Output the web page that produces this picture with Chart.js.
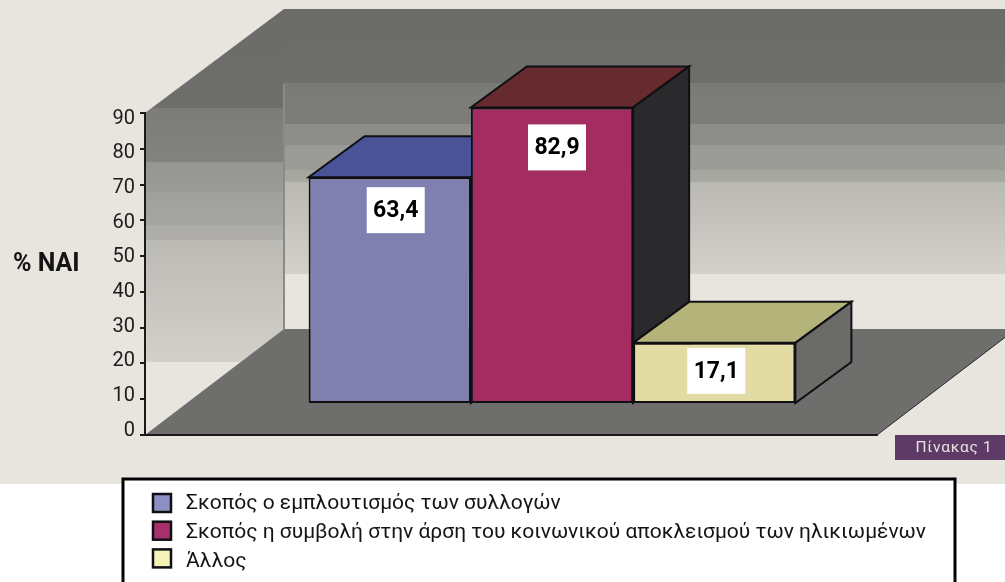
<!DOCTYPE html>
<html>
<head>
<meta charset="utf-8">
<title>Πίνακας 1</title>
<script src="https://cdn.jsdelivr.net/npm/chart.js@4"></script>
<style>
    html, body { margin: 0; padding: 0; background: #ffffff; }
    canvas { display: block; }
</style>
</head>
<body>
<canvas id="chart" width="1005" height="582"></canvas>
<script>
// data
const categories = ["% ΝΑΙ"];
const seriesNames = [
    "Σκοπός ο εμπλουτισμός των συλλογών",
    "Σκοπός η συμβολή στην άρση του κοινωνικού αποκλεισμού των ηλικιωμένων",
    "Άλλος"
];
const seriesValues = [63.4, 82.9, 17.1];
const tickValues = [0, 10, 20, 30, 40, 50, 60, 70, 80, 90];

// colours of each bar
const frontColors = ["#7f7fb0", "#a32c60", "#e2dca4"];
const topColors = ["#4b5398", "#672a2e", "#b3b37a"];
const sideColors = ["#3a3f70", "#2a2a2c", "#6b6b68"];
const swatchColors = ["#8a8fc4", "#a8306a", "#f5f2b8"];
const labelNudgeX = [6, 5, 2];
const labelNudgeY = [10, 17, 5];

// room: back wall offset from front plane, and where the bars stand in it
const roomX = 139, roomY = 106;
const barDepthX = 56, barDepthY = 41;
const barShiftX = 41, barShiftY = 31;

const paper = "#e8e4de";
const black = "#101014";
const uiFont = "Roboto, 'Open Sans', sans-serif";

// stripes of the walls, [top, bottom, colour at top, colour at bottom]
const backBands = [
    [9, 83, "#6b6c6a", "#6e6e6b"],
    [83, 124, "#7b7b76", "#7c7c7a"],
    [124, 145, "#8c8d88", "#8d8e89"],
    [145, 170, "#9a9a96", "#9c9c97"],
    [170, 182, "#a6a6a0", "#a8a8a2"],
    [182, 274, "#bab8b2", "#d4d1cb"]
];
const sideBands = [
    [9, 108, "#6b6b69", "#6e6e6c"],
    [108, 162, "#7c7c78", "#82827f"],
    [162, 192, "#969692", "#9a9a96"],
    [192, 225, "#a0a09c", "#a6a6a1"],
    [225, 240, "#aeaca8", "#b0aeaa"],
    [240, 362, "#bcbab4", "#d3d0ca"]
];

function poly(ctx, points, fill, stroke) {
    ctx.beginPath();
    points.forEach((p, i) => i ? ctx.lineTo(p[0], p[1]) : ctx.moveTo(p[0], p[1]));
    ctx.closePath();
    if (fill) { ctx.fillStyle = fill; ctx.fill(); }
    if (stroke) { ctx.strokeStyle = stroke; ctx.lineWidth = 2; ctx.stroke(); }
}

function paintBands(ctx, bands, x, w) {
    bands.forEach(b => {
        const g = ctx.createLinearGradient(0, b[0], 0, b[1]);
        g.addColorStop(0, b[2]);
        g.addColorStop(1, b[3]);
        ctx.fillStyle = g;
        ctx.fillRect(x, b[0], w, b[1] - b[0]);
    });
}

const roomPlugin = {
    id: "room",
    beforeDraw(chart) {
        const ctx = chart.ctx;
        const a = chart.chartArea;
        ctx.save();
        ctx.fillStyle = paper;
        ctx.fillRect(0, 0, chart.width, 484);

        const wallX = a.left + roomX;
        const floorBack = a.bottom - roomY;

        // back wall
        paintBands(ctx, backBands, wallX, chart.width - wallX);

        // left wall, clipped to its slanted outline
        ctx.save();
        ctx.beginPath();
        ctx.moveTo(a.left, a.top);
        ctx.lineTo(wallX, a.top - roomY + 2);
        ctx.lineTo(wallX, floorBack);
        ctx.lineTo(a.left, a.bottom);
        ctx.closePath();
        ctx.clip();
        paintBands(ctx, sideBands, a.left, roomX);
        ctx.restore();

        // thin line in the corner of the walls
        ctx.fillStyle = "#8a8a86";
        ctx.fillRect(wallX - 1, 84, 2, floorBack - 84);

        // floor
        poly(ctx, [[a.left, a.bottom], [a.right, a.bottom], [a.right + roomX, floorBack], [wallX, floorBack]], "#6e6e6c");
        ctx.beginPath();
        ctx.moveTo(a.right, a.bottom);
        ctx.lineTo(a.right + roomX, floorBack);
        ctx.strokeStyle = "#2a2a2a";
        ctx.lineWidth = 1;
        ctx.stroke();
        ctx.restore();

        // tick labels sit on a slightly tighter pitch than the tick marks
        chart.scales.y.getLabelItems().forEach((item, i) => {
            item.options.translation[1] += -4.5 + tickValues[i] / 9;
        });
    },
    beforeDatasetsDraw(chart) {
        const ctx = chart.ctx;
        ctx.save();
        ctx.lineJoin = "miter";
        seriesValues.forEach((v, i) => {
            const bar = chart.getDatasetMeta(i).data[0];
            const l = bar.x - bar.width / 2 + barShiftX;
            const r = bar.x + bar.width / 2 + barShiftX;
            const t = bar.y - barShiftY;
            const b = bar.base - barShiftY;
            poly(ctx, [[l, t], [r, t], [r + barDepthX, t - barDepthY], [l + barDepthX, t - barDepthY]], topColors[i], black);
            poly(ctx, [[r, t], [r + barDepthX, t - barDepthY], [r + barDepthX, b - barDepthY], [r, b]], sideColors[i], black);
        });
        ctx.restore();
    },
    // front faces come from the library, moved into the room
    beforeDatasetDraw(chart) {
        chart.ctx.save();
        chart.ctx.translate(barShiftX, -barShiftY);
    },
    afterDatasetDraw(chart) {
        chart.ctx.restore();
    },
    afterDraw(chart) {
        const ctx = chart.ctx;
        ctx.save();

        // white value boxes
        seriesValues.forEach((v, i) => {
            const bar = chart.getDatasetMeta(i).data[0];
            const cx = bar.x + barShiftX + labelNudgeX[i];
            const top = bar.y - barShiftY + labelNudgeY[i];
            ctx.fillStyle = "#ffffff";
            ctx.fillRect(cx - 29, top, 58, 46);
            ctx.fillStyle = "#000000";
            ctx.font = "700 23px " + uiFont;
            ctx.textAlign = "center";
            ctx.textBaseline = "middle";
            ctx.fillText(String(v).replace(".", ","), cx, top + 24);
        });

        // axis name
        ctx.fillStyle = "#141414";
        ctx.font = "700 25px " + uiFont;
        ctx.textAlign = "left";
        ctx.textBaseline = "middle";
        ctx.fillText(categories[0], 13, 265);

        // table tag
        ctx.fillStyle = "#5e3a66";
        ctx.fillRect(895, 435, 110, 25);
        ctx.fillStyle = paper;
        ctx.font = "400 15.5px " + uiFont;
        ctx.letterSpacing = "0.7px";
        ctx.textAlign = "center";
        ctx.fillText("Πίνακας 1", 954, 448);
        ctx.letterSpacing = "0px";

        // legend box, runs off the bottom of the page
        ctx.fillStyle = "#ffffff";
        ctx.fillRect(123, 479, 832, 110);
        ctx.strokeStyle = "#000000";
        ctx.lineWidth = 3;
        ctx.strokeRect(123, 479, 832, 110);

        chart.data.datasets.forEach((ds, i) => {
            const swatchY = 503 + i * 27.7;
            ctx.fillStyle = swatchColors[i];
            ctx.fillRect(153, swatchY - 9, 18, 18);
            ctx.strokeStyle = "#101014";
            ctx.lineWidth = 2.5;
            ctx.strokeRect(153, swatchY - 9, 18, 18);
            ctx.fillStyle = "#141414";
            ctx.font = "400 21px " + uiFont;
            ctx.textAlign = "left";
            ctx.textBaseline = "middle";
            ctx.fillText(ds.label, 186, 504 + i * 29);
        });
        ctx.restore();
    }
};

new Chart(document.getElementById("chart"), {
    type: "bar",
    data: {
        labels: categories,
        datasets: seriesNames.map((name, i) => ({
            label: name,
            data: [seriesValues[i]],
            backgroundColor: frontColors[i],
            borderColor: black,
            borderWidth: 2,
            borderSkipped: false
        }))
    },
    options: {
        responsive: false,
        animation: false,
        categoryPercentage: 0.665,
        barPercentage: 1,
        layout: { padding: { top: 113, left: 0, right: 128, bottom: 147 } },
        plugins: {
            legend: { display: false },
            tooltip: { enabled: false }
        },
        scales: {
            x: {
                afterFit(scale) { scale.height = 0; },
                ticks: { display: false },
                grid: { display: false },
                border: { display: true, color: "#1a1a1a", width: 2 }
            },
            y: {
                min: 0,
                max: 90,
                afterFit(scale) { scale.width = 145; },
                afterBuildTicks(scale) { scale.ticks = tickValues.map(v => ({ value: v })); },
                ticks: {
                    color: "#1c1c1c",
                    padding: 5,
                    font: { family: uiFont, size: 20, weight: "400" }
                },
                grid: { drawOnChartArea: false, drawTicks: true, tickLength: 5, color: "#1a1a1a", lineWidth: 2 },
                border: { display: true, color: "#1a1a1a", width: 2 }
            }
        }
    },
    plugins: [roomPlugin]
});
</script>
</body>
</html>
